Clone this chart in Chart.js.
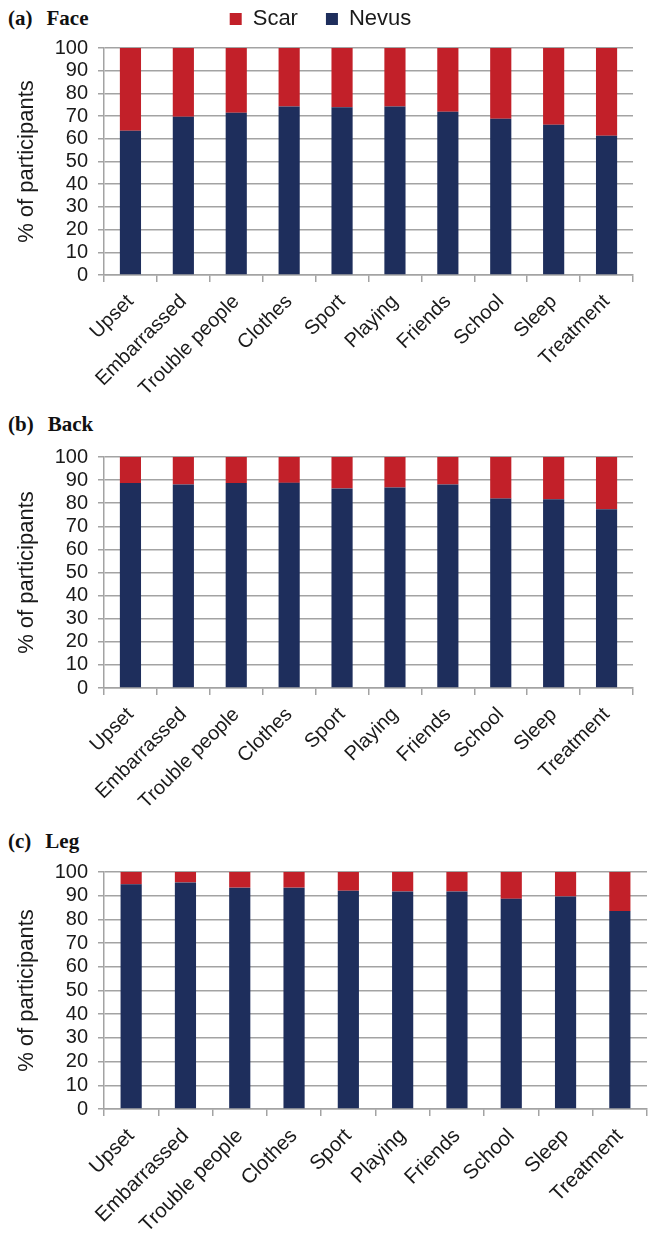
<!DOCTYPE html>
<html>
<head>
<meta charset="utf-8">
<script src="https://cdn.jsdelivr.net/npm/chart.js@4.4.1/dist/chart.umd.min.js"></script>
<style>
  html, body { margin: 0; padding: 0; background: #ffffff; }
  body { width: 660px; height: 1248px; position: relative; overflow: hidden; }
  .panel-title { position: absolute; left: 8px; font-family: "Liberation Serif", "Times New Roman", serif; font-weight: bold; font-size: 21px; line-height: 21px; color: #111; white-space: nowrap; }
  .panel-title span { margin-left: 14px; }
  canvas { position: absolute; left: 0; display: block; }
</style>
</head>
<body>
<div class="panel-title" style="top:8px">(a)<span>Face</span></div>
<div class="panel-title" style="top:414px">(b)<span>Back</span></div>
<div class="panel-title" style="top:831px">(c)<span>Leg</span></div>
<canvas id="chartA" width="660" height="430" style="top:-20px"></canvas>
<canvas id="chartB" width="660" height="420" style="top:400px"></canvas>
<canvas id="chartC" width="660" height="428" style="top:820px"></canvas>
<script>
const categories = ['Upset', 'Embarrassed', 'Trouble people', 'Clothes', 'Sport', 'Playing', 'Friends', 'School', 'Sleep', 'Treatment'];
const seriesNames = ['Nevus', 'Scar'];
const yTicks = [0, 10, 20, 30, 40, 50, 60, 70, 80, 90, 100];

const faceNevus = [63.5, 69.7, 71.5, 74.2, 73.9, 74.2, 71.9, 68.8, 66.2, 61.3];
const faceScar  = [36.5, 30.3, 28.5, 25.8, 26.1, 25.8, 28.1, 31.2, 33.8, 38.7];

const backNevus = [88.7, 88.1, 88.7, 88.8, 86.4, 86.8, 88.1, 82.0, 81.7, 77.4];
const backScar  = [11.3, 11.9, 11.3, 11.2, 13.6, 13.2, 11.9, 18.0, 18.3, 22.6];

const legNevus  = [94.8, 95.6, 93.4, 93.4, 92.1, 91.8, 91.8, 88.7, 89.7, 83.5];
const legScar   = [5.2, 4.4, 6.6, 6.6, 7.9, 8.2, 8.2, 11.3, 10.3, 16.5];

const NAVY = '#1e2e5c';
const RED = '#c22029';
const GRID = '#a3a3a3';
const TEXT = '#1a1a1a';
const SANS = '"Liberation Sans", Arial, Helvetica, sans-serif';

const legendTweak = {
  id: 'legendTweak',
  beforeInit(chart) {
    if (!chart.legend) return;
    const orig = chart.legend.fit;
    chart.legend.fit = function () {
      orig.call(this);
      this.height += 8;
    };
  },
  afterLayout(chart) {
    if (!chart.legend) return;
    chart.legend.left += 4;
    chart.legend.right += 4;
  }
};

function build(id, nevus, scar, cfg) {
  return new Chart(document.getElementById(id), {
    type: 'bar',
    data: {
      labels: categories,
      datasets: [
        { label: seriesNames[0], data: nevus, backgroundColor: NAVY, barPercentage: cfg.barPct, categoryPercentage: 1 },
        { label: seriesNames[1], data: scar, backgroundColor: RED, barPercentage: cfg.barPct, categoryPercentage: 1 }
      ]
    },
    options: {
      responsive: false,
      animation: false,
      devicePixelRatio: 1,
      layout: { padding: { top: cfg.padTop, right: cfg.padRight, left: 0, bottom: 0 } },
      plugins: {
        tooltip: { enabled: false },
        legend: cfg.legend ? {
          display: true,
          position: 'top',
          reverse: true,
          labels: {
            boxWidth: 12,
            boxHeight: 12,
            padding: 28,
            color: TEXT,
            font: { family: SANS, size: 22 }
          }
        } : { display: false }
      },
      scales: {
        x: {
          stacked: true,
          afterFit: (s) => { s.height = cfg.xHeight; },
          grid: { display: true, drawOnChartArea: false, drawTicks: true, tickLength: 7, color: GRID, lineWidth: 1.5, offset: true },
          border: { display: true, color: GRID, width: 1.5 },
          ticks: {
            autoSkip: false,
            maxRotation: 45,
            minRotation: 45,
            padding: 8,
            labelOffset: 0,
            color: TEXT,
            font: { family: SANS, size: cfg.xFont }
          }
        },
        y: {
          stacked: true,
          min: 0,
          max: 100,
          afterFit: (s) => { s.width = 104; },
          afterBuildTicks: (s) => { s.ticks = yTicks.map(v => ({ value: v })); },
          grid: { color: GRID, lineWidth: 1.5, tickLength: 6, drawTicks: true },
          border: { display: true, color: GRID, width: 1.5 },
          ticks: {
            autoSkip: false,
            stepSize: 10,
            padding: 10,
            color: TEXT,
            font: { family: SANS, size: 20 }
          },
          title: {
            display: true,
            text: '% of participants',
            color: TEXT,
            font: { family: SANS, size: 22 },
            padding: { top: 14, bottom: 0 }
          }
        }
      }
    },
    plugins: cfg.legend ? [legendTweak] : []
  });
}

build('chartA', faceNevus, faceScar, { legend: true, padTop: 0, padRight: 27, xHeight: 135, barPct: 0.4, xFont: 20 });
build('chartB', backNevus, backScar, { legend: false, padTop: 57, padRight: 27, xHeight: 132, barPct: 0.4, xFont: 20 });
build('chartC', legNevus, legScar, { legend: false, padTop: 52, padRight: 13, xHeight: 139, barPct: 0.39, xFont: 20.5 });
</script>
</body>
</html>
